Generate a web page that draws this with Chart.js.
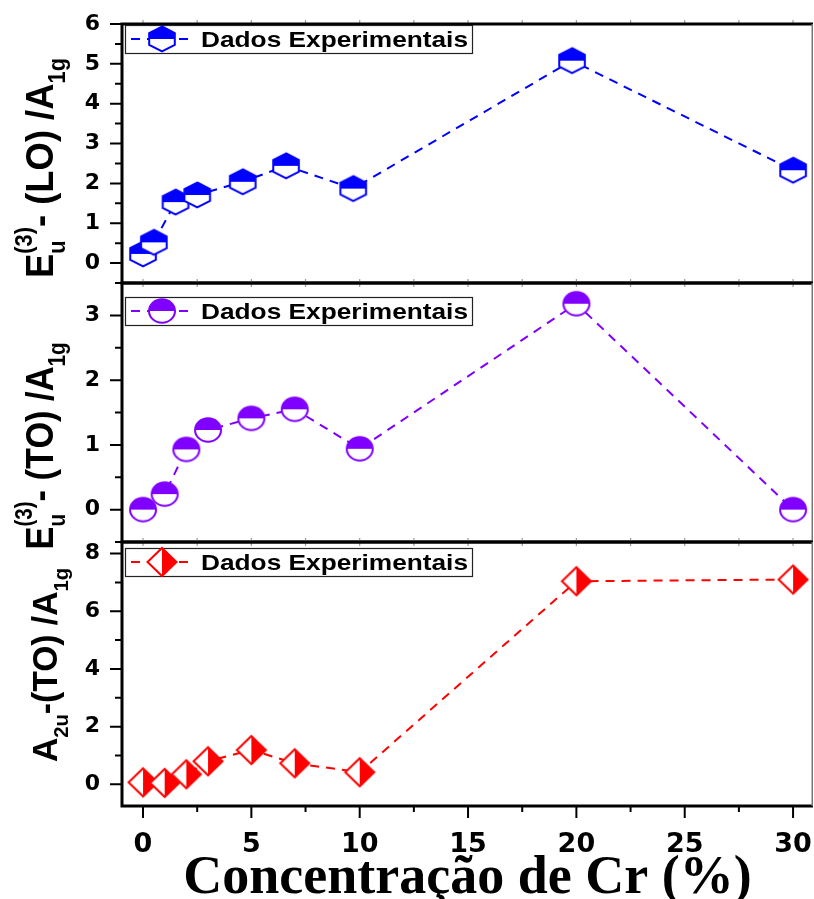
<!DOCTYPE html>
<html>
<head>
<meta charset="utf-8">
<script src="https://cdn.jsdelivr.net/npm/chart.js@4.4.1/dist/chart.umd.min.js"></script>
<style>
  html, body { margin: 0; padding: 0; background: #fff; }
  #wrap { position: relative; width: 814px; height: 899px; overflow: hidden; }
  #wrap canvas { position: absolute; left: 0; }
</style>
</head>
<body>
<div id="wrap">
  <canvas id="pLO"  width="814" height="290" style="top:0px"></canvas>
  <canvas id="pTO"  width="814" height="280" style="top:276px"></canvas>
  <canvas id="pA2u" width="814" height="364" style="top:535px"></canvas>
</div>
<script>
/* ── Data ── */
const xLO     = [0, 0.5, 1.5, 2.5, 4.6, 6.6, 9.7, 19.8, 30];
const yLO     = [0.23, 0.52, 1.53, 1.71, 2.04, 2.44, 1.87, 5.08, 2.33];
const xTO     = [0, 1, 2, 3, 5, 7, 10, 20, 30];
const yEuTO   = [0, 0.24, 0.93, 1.23, 1.41, 1.55, 0.94, 3.18, 0];
const yA2uTO  = [0.07, 0.05, 0.35, 0.8, 1.19, 0.73, 0.42, 7.04, 7.1];

const xTicks      = [0, 5, 10, 15, 20, 25, 30];
const yTicksLO    = [0, 1, 2, 3, 4, 5, 6];
const yTicksEuTO  = [0, 1, 2, 3];
const yTicksA2u   = [0, 2, 4, 6, 8];

const legendLabel = "Dados Experimentais";
const xTitle      = "Concentração de Cr (%)";

const BLUE = "#0000ff", VIOLET = "#8000ff", RED = "#ff0000";
const SANS = "'Liberation Sans', Arial, sans-serif";
const TICK_FONT = "'DejaVu Sans', sans-serif";

/* ── Half-filled marker images used as pointStyle ── */
function makeMarker(kind, color) {
  const c = document.createElement("canvas");
  c.width = c.height = 34;
  const g = c.getContext("2d");
  g.translate(17, 17);
  const path = () => {
    g.beginPath();
    if (kind === "hex") {
      g.moveTo(0, -12.5); g.lineTo(12.8, -6); g.lineTo(12.8, 6);
      g.lineTo(0, 12.5); g.lineTo(-12.8, 6); g.lineTo(-12.8, -6); g.closePath();
    } else if (kind === "circle") {
      g.ellipse(0, 0, 13, 11.7, 0, 0, Math.PI * 2);
    } else {
      g.moveTo(0, -14); g.lineTo(14.5, 0); g.lineTo(0, 14); g.lineTo(-14.5, 0); g.closePath();
    }
  };
  path(); g.fillStyle = "#fff"; g.fill();
  g.save(); path(); g.clip(); g.fillStyle = color;
  if (kind === "diamond") g.fillRect(0, -20, 20, 40); else g.fillRect(-20, -20, 40, 20);
  g.restore();
  path(); g.lineWidth = 2; g.strokeStyle = color; g.stroke();
  return c;
}

/* ── Per-panel decoration settings ── */
const panels = {
  pLO: {
    color: BLUE, marker: makeMarker("hex", BLUE), major: 1, minor: 0.5, legendDy: 1,
    title: [{ t: "E" }, { sub: "u", sup: "(3)" }, { t: "- (LO) /A" }, { sub: "1g" }],
    titleSize: 39, titleLen: 220, titleBase: 53, titleMid: 168, top: 0
  },
  pTO: {
    color: VIOLET, marker: makeMarker("circle", VIOLET), major: 1, minor: 0.5, legendDy: 14,
    title: [{ t: "E" }, { sub: "u", sup: "(3)" }, { t: "- (TO) /A" }, { sub: "1g" }],
    titleSize: 39, titleLen: 207, titleBase: 53, titleMid: 446, top: 276
  },
  pA2u: {
    color: RED, marker: makeMarker("diamond", RED), major: 2, minor: 1, legendDy: 6, bottomAxis: true,
    title: [{ t: "A" }, { sub: "2u" }, { t: "-(TO) /A" }, { sub: "1g" }],
    titleSize: 35, titleLen: 194, titleBase: 57, titleMid: 665, top: 535
  }
};

/* rich text (sub/superscripts) — returns width, draws when draw=true */
function richText(ctx, segs, size, draw) {
  let x = 0;
  const small = size * 0.6;
  segs.forEach(s => {
    if (s.t) {
      ctx.font = `bold ${size}px ${SANS}`;
      if (draw) ctx.fillText(s.t, x, 0);
      x += ctx.measureText(s.t).width;
    } else {
      ctx.font = `bold ${small}px ${SANS}`;
      let w = 0;
      if (s.sub) { if (draw) ctx.fillText(s.sub, x, size * 0.3); w = Math.max(w, ctx.measureText(s.sub).width); }
      if (s.sup) { if (draw) ctx.fillText(s.sup, x, -size * 0.55); w = Math.max(w, ctx.measureText(s.sup).width); }
      x += w;
    }
  });
  return x;
}

const decor = {
  id: "decor",
  afterDraw(chart) {
    const p = panels[chart.canvas.id];
    const ctx = chart.ctx, a = chart.chartArea;
    const xs = chart.scales.x, ys = chart.scales.y;
    ctx.save();

    /* y tick marks (major + minor, outward) */
    ctx.strokeStyle = "#000"; ctx.lineWidth = 2;
    ctx.beginPath();
    for (let k = Math.ceil(ys.min / p.minor); k * p.minor <= ys.max + 1e-9; k++) {
      const v = k * p.minor;
      const isMajor = Math.abs(v / p.major - Math.round(v / p.major)) < 1e-6;
      const py = ys.getPixelForValue(v);
      ctx.moveTo(a.left - (isMajor ? 12 : 7), py); ctx.lineTo(a.left, py);
    }
    ctx.stroke();

    /* x tick marks */
    for (let k = Math.ceil(xs.min / 2.5); k * 2.5 <= xs.max; k++) {
      const px = xs.getPixelForValue(k * 2.5);
      const isMajor = k % 2 === 0;
      ctx.strokeStyle = "#999"; ctx.lineWidth = 1.2;
      ctx.beginPath(); ctx.moveTo(px, a.top - 4); ctx.lineTo(px, a.top); ctx.stroke();
      if (p.bottomAxis) {
        ctx.strokeStyle = "#000"; ctx.lineWidth = 2;
        ctx.beginPath(); ctx.moveTo(px, a.bottom); ctx.lineTo(px, a.bottom + (isMajor ? 12 : 6)); ctx.stroke();
      } else {
        ctx.beginPath(); ctx.moveTo(px, a.bottom); ctx.lineTo(px, a.bottom + 4); ctx.stroke();
      }
    }

    /* frame */
    ctx.strokeStyle = "#000"; ctx.lineWidth = 3;
    ctx.beginPath();
    ctx.moveTo(a.left - 1.5, a.top); ctx.lineTo(a.right, a.top);
    ctx.moveTo(a.left - 1.5, a.bottom); ctx.lineTo(a.right, a.bottom);
    ctx.moveTo(a.left, a.top - 1.5); ctx.lineTo(a.left, a.bottom + 1.5);
    ctx.stroke();
    ctx.strokeStyle = "#777"; ctx.lineWidth = 1.5;
    ctx.beginPath(); ctx.moveTo(a.right - 0.75, a.top); ctx.lineTo(a.right - 0.75, a.bottom); ctx.stroke();

    /* legend box */
    const lx = a.left + 3, ly = a.top + p.legendDy, lw = 347, lh = 28, mid = ly + lh / 2;
    ctx.fillStyle = "#fff"; ctx.fillRect(lx, ly, lw, lh);
    ctx.strokeStyle = "#222"; ctx.lineWidth = 1.2; ctx.strokeRect(lx + 0.5, ly + 0.5, lw, lh);
    ctx.strokeStyle = p.color; ctx.lineWidth = 2; ctx.setLineDash([9, 7]);
    ctx.beginPath(); ctx.moveTo(lx + 6, mid); ctx.lineTo(lx + 70, mid); ctx.stroke();
    ctx.setLineDash([]);
    ctx.drawImage(p.marker, lx + 37 - 17, mid - 17);
    ctx.font = `bold 22px ${SANS}`; ctx.fillStyle = "#000"; ctx.textBaseline = "alphabetic"; ctx.textAlign = "left";
    const tw = ctx.measureText(legendLabel).width;
    ctx.save(); ctx.translate(lx + 76, mid + 8); ctx.scale(267 / tw, 1);
    ctx.fillText(legendLabel, 0, 0); ctx.restore();

    /* rotated y-axis title */
    ctx.fillStyle = "#000"; ctx.textAlign = "left"; ctx.textBaseline = "alphabetic";
    const w = richText(ctx, p.title, p.titleSize, false);
    ctx.save();
    ctx.translate(p.titleBase, p.titleMid - p.top);
    ctx.rotate(-Math.PI / 2);
    ctx.scale(p.titleLen / w, 1);
    ctx.translate(-w / 2, 0);
    richText(ctx, p.title, p.titleSize, true);
    ctx.restore();

    /* x-axis title on the bottom panel */
    if (p.bottomAxis) {
      ctx.font = `bold 54px 'Liberation Serif', 'Times New Roman', serif`;
      ctx.textAlign = "center"; ctx.textBaseline = "alphabetic"; ctx.fillStyle = "#000";
      ctx.fillText(xTitle, (a.left + a.right) / 2, 893 - p.top);
    }
    ctx.restore();
  }
};

function buildPanel(id, xs, ys, yMin, yMax, yTicks, padTop, padBottom) {
  const p = panels[id];
  return new Chart(document.getElementById(id), {
    type: "line",
    data: {
      datasets: [{
        label: legendLabel,
        data: xs.map((x, i) => ({ x, y: ys[i] })),
        borderColor: p.color, borderWidth: 2, borderDash: [9, 7],
        pointStyle: p.marker, pointRadius: 13, pointHoverRadius: 13,
        tension: 0, fill: false, clip: false
      }]
    },
    options: {
      responsive: false, animation: false, devicePixelRatio: 1, events: [],
      layout: { autoPadding: false, padding: { top: padTop, bottom: padBottom, left: 0, right: 1 } },
      plugins: { legend: { display: false }, tooltip: { enabled: false } },
      scales: {
        x: {
          type: "linear", min: -0.97, max: 30.92, display: !!p.bottomAxis,
          grid: { display: false, drawTicks: false }, border: { display: false },
          ticks: { color: "#000", padding: 23, font: { family: TICK_FONT, size: 27, weight: "bold" } },
          afterBuildTicks: s => { s.ticks = xTicks.map(v => ({ value: v })); },
          afterFit: s => { s.height = p.bottomAxis ? 93 : 0; s.paddingLeft = 0; s.paddingRight = 0; }
        },
        y: {
          type: "linear", min: yMin, max: yMax,
          grid: { display: false, drawTicks: false }, border: { display: false },
          ticks: { color: "#000", padding: 22, font: { family: TICK_FONT, size: 22, weight: "bold" } },
          afterBuildTicks: s => { s.ticks = yTicks.map(v => ({ value: v })); },
          afterFit: s => { s.width = 122; s.paddingTop = 0; s.paddingBottom = 0; }
        }
      }
    },
    plugins: [decor]
  });
}

buildPanel("pLO",  xLO, yLO,    -0.5,  6,   yTicksLO,   24, 7);
buildPanel("pTO",  xTO, yEuTO,  -0.5,  3.5, yTicksEuTO, 7,  14);
buildPanel("pA2u", xTO, yA2uTO, -0.75, 8.4, yTicksA2u,  7,  0);
</script>
</body>
</html>
